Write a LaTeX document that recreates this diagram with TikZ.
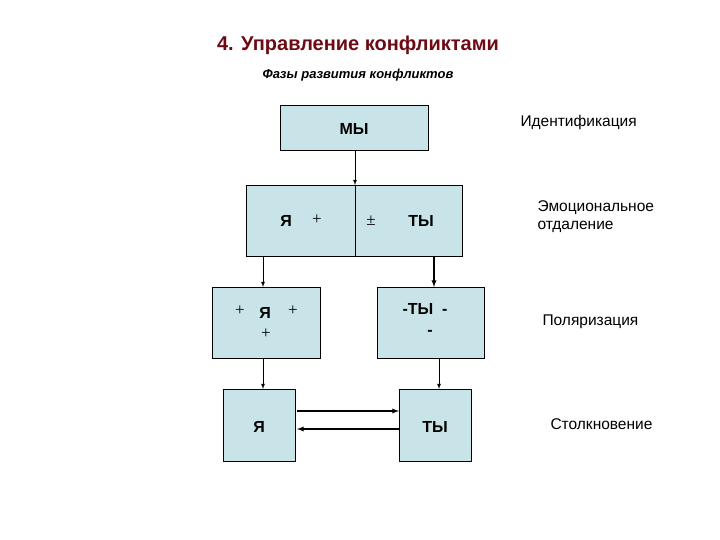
\documentclass[tikz,border=0pt]{standalone}
\usepackage{fontspec}
\setmainfont{Liberation Sans}
\newfontfamily\serifpl{Liberation Serif}
\begin{document}
\begin{tikzpicture}[x=1pt,y=-1pt,
  bx/.style={draw=black,fill={rgb,255:red,200;green,228;blue,232},line width=0.8pt},
  ar/.style={-latex,line width=0.8pt},
  lb/.style={font=\fontsize{15.5}{18}\selectfont,align=left,anchor=west},
  pl/.style={font=\serifpl\fontsize{17}{20}\selectfont},
  tx/.style={font=\bfseries\fontsize{16}{19}\selectfont}]
\useasboundingbox (0,0) rectangle (720,540);
\node[font=\bfseries\fontsize{20}{24}\selectfont,text={rgb,255:red,110;green,10;blue,20}] (title) at (358,45) {4. Управление конфликтами};
\node[font=\bfseries\itshape\fontsize{13}{16}\selectfont] (sub) at (358,75) {Фазы развития конфликтов};
\draw[bx] (280,105) rectangle (428,150);
\node[tx] (my) at (354,129) {МЫ};
\coordinate (myb) at (355,150);
\draw[bx] (246,185) rectangle (462,256);
\draw[line width=0.8pt] (355,185) -- (355,256);
\coordinate (midt) at (355,185);
\node[tx] (ya1) at (286,221) {Я};
\node[pl] (p1) at (317,220) {+};
\node[pl] (pm) at (371,221) {±};
\node[tx] (ty1) at (421,221) {ТЫ};
\draw[bx] (212,287) rectangle (320,358);
\node[tx] (ya2) at (265,313) {Я};
\node[pl] (p2a) at (240,311) {+};
\node[pl] (p2b) at (293,311) {+};
\node[pl] (p2c) at (266,334) {+};
\draw[bx] (377,287) rectangle (484,358);
\node[tx] (ty2) at (425,309) {-ТЫ\ \ -};
\node[tx] (ty2b) at (430,333) {-};
\draw[bx] (223,389) rectangle (295,461);
\node[tx] (ya3) at (259,427) {Я};
\draw[bx] (399,389) rectangle (471,461);
\node[tx] (ty3) at (435,427) {ТЫ};
\coordinate (a1) at (263,256); \coordinate (a2) at (263,287);
\coordinate (b1) at (434,256); \coordinate (b2) at (434,287);
\coordinate (c1) at (263,358); \coordinate (c2) at (263,389);
\coordinate (d1) at (439,358); \coordinate (d2) at (439,389);
\draw[ar] (myb) -- (midt);
\draw[ar] (a1) -- (a2);
\draw[ar,line width=1.3pt] (b1) -- (b2);
\draw[ar] (c1) -- (c2);
\draw[ar] (d1) -- (d2);
\coordinate (e1) at (297,411); \coordinate (e2) at (399,411);
\coordinate (f1) at (399,429); \coordinate (f2) at (297,429);
\draw[ar,line width=1.3pt] (e1) -- (e2);
\draw[ar,line width=1.3pt] (f1) -- (f2);
\node[lb] (l1) at (517,122) {Идентификация};
\node[lb] (l2) at (534,217) {Эмоциональное\\отдаление};
\node[lb] (l3) at (539,322) {Поляризация};
\node[lb] (l4) at (547,424) {Столкновение};
\end{tikzpicture}
\end{document}
